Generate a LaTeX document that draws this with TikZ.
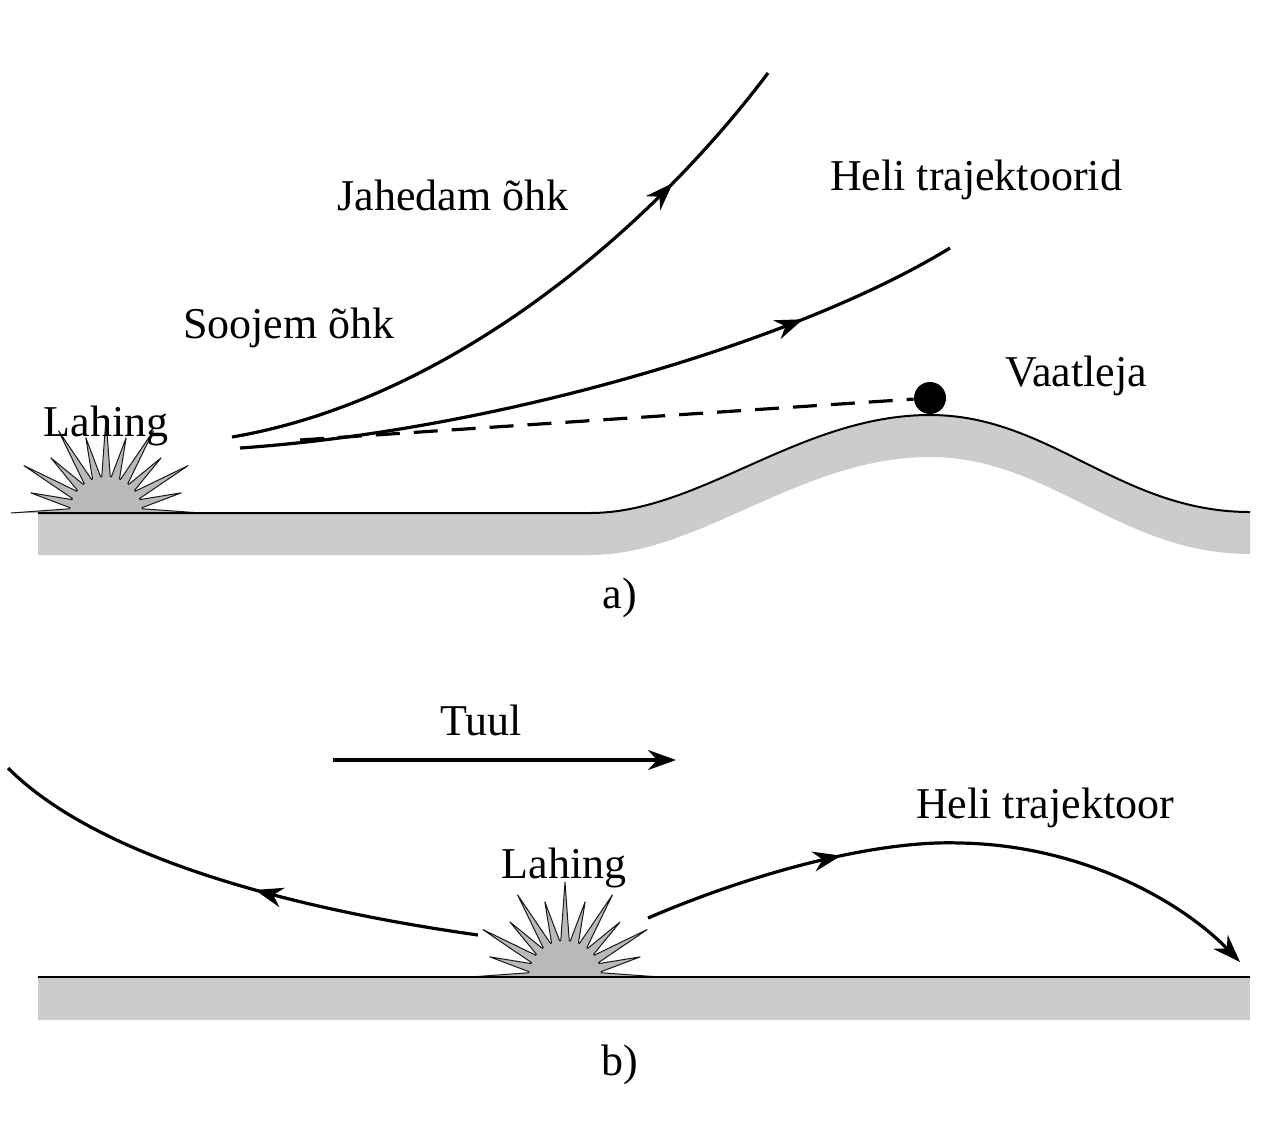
\documentclass[tikz,border=0pt]{standalone}
\usepackage{fontspec}
\setmainfont{Liberation Serif}
\usetikzlibrary{arrows.meta,decorations.markings}
\tikzset{
  ray/.style={line width=1.6pt},
  tip/.style={-{Stealth[length=14pt,width=10pt]}},
  mid/.style={postaction={decorate},decoration={markings,
    mark=at position #1 with {\arrow{Stealth[length=14pt,width=10pt]}}}},
  lbl/.style={font=\fontsize{22}{26}\selectfont},
  ground/.style={fill=gray!40,draw=none}
}
\newcommand\burst[1]{%
  \begin{scope}[shift={(#1)}]
    \clip (-130,-130) rectangle (130,0);
    \path[fill=gray!55,draw=gray!20!black,line width=0.5pt] (180:95)
      \foreach \a in {187.5,202.5,...,352.5} {-- (\a:34) -- (\a+7.5:{ifthenelse(mod(\a-187.5,30)==0,78,95)})};
    \fill[gray!55] (0,0) circle[radius=36];
  \end{scope}}
\begin{document}
\begin{tikzpicture}[x=0.5pt,y=-0.5pt]
\useasboundingbox (0,0) rectangle (1280,1147);
% ground a
\fill[gray!40] (38,513) -- (590,513) .. controls (700,513) and (800,415) .. (930,415)
  .. controls (1050,415) and (1120,512) .. (1250,512) -- (1250,554)
  .. controls (1120,554) and (1050,457) .. (930,457) .. controls (800,457) and (700,555) .. (590,555) -- (38,555) -- cycle;
\burst{106,513}
\draw[line width=1pt] (38,513) -- (590,513) .. controls (700,513) and (800,415) .. (930,415)
  .. controls (1050,415) and (1120,512) .. (1250,512);
% trajectories a
\coordinate (s1) at (232,437);
\coordinate (s2) at (240,448);
\coordinate (e1) at (768,73);
\coordinate (e2) at (950,248);
\draw[ray,mid=0.78] (s1) .. controls (450,400) and (650,230) .. (e1);
\draw[ray,mid=0.78] (s2) .. controls (500,430) and (800,340) .. (e2);
\node[circle,fill,inner sep=0pt,minimum size=16pt] (obs) at (930,398) {};
\draw[ray,dash pattern=on 12pt off 7pt] (300,440) -- (obs);
\node[lbl] (cold) at (453,195) {Jahedam õhk};
\node[lbl] (warm) at (289,328) {Soojem õhk};
\node[lbl] (traj) at (976,180) {Heli trajektoorid};
\node[lbl] (vaat) at (1076,376) {Vaatleja};
\node[lbl] (lahA) at (106,426) {Lahing};
\node[lbl] (a) at (620,598) {a)};
% ground b
\fill[gray!40] (38,977) rectangle (1250,1020);
\burst{565,977}
\draw[line width=1pt] (38,977) -- (1250,977);
\coordinate (w1) at (333,760);
\coordinate (w2) at (676,760);
\draw[ray,tip] (w1) -- (w2);
\coordinate (l1) at (478,935);
\coordinate (l2) at (8,768);
\coordinate (r1) at (648,918);
\coordinate (r2) at (1240,962);
\draw[ray,mid=0.45] (l1) .. controls (300,910) and (100,860) .. (l2);
\draw[ray,tip,mid=0.32] (r1) .. controls (760,870) and (880,840) .. (960,843)
  .. controls (1080,845) and (1180,900) .. (r2);
\node[lbl] (tuul) at (481,720) {Tuul};
\node[lbl] (lahB) at (564,868) {Lahing};
\node[lbl] (trajB) at (1045,808) {Heli trajektoor};
\node[lbl] (b) at (620,1065) {b)};
\end{tikzpicture}
\end{document}
